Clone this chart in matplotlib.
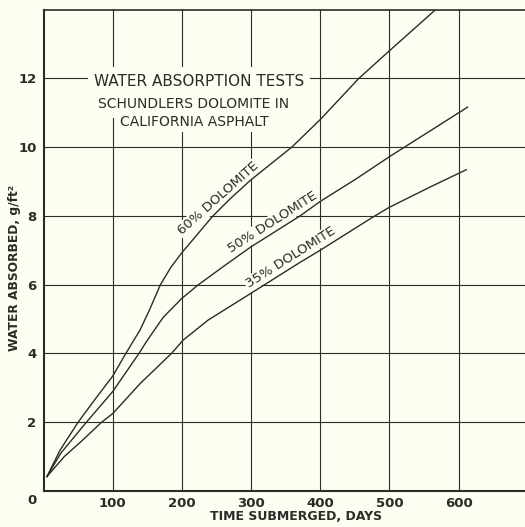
import matplotlib.pyplot as plt

# values (days, g/ft2)
days_60 = [5, 24, 50, 75, 100, 119, 139.5, 154, 169, 184, 200, 224, 245, 270, 300, 359, 400, 456, 500, 567]
water_60 = [0.42, 1.19, 2.0, 2.68, 3.34, 4.0, 4.68, 5.3, 6.0, 6.5, 6.93, 7.5, 8.0, 8.5, 9.05, 10.0, 10.8, 12.0, 12.8, 14.0]

days_50 = [5, 25, 62, 100, 138, 149, 173, 200, 224, 265, 300, 371, 400, 450, 500, 613]
water_50 = [0.42, 1.1, 2.0, 2.89, 4.0, 4.35, 5.05, 5.6, 6.0, 6.6, 7.1, 8.0, 8.42, 9.05, 9.72, 11.16]

days_35 = [5, 30, 55, 84, 100, 140, 185, 202, 238, 300, 371, 400, 475, 500, 560, 611]
water_35 = [0.42, 1.0, 1.45, 2.0, 2.25, 3.13, 4.0, 4.39, 4.97, 5.75, 6.65, 7.0, 7.95, 8.25, 8.85, 9.34]

x_ticks = [100, 200, 300, 400, 500, 600]
y_ticks = [2, 4, 6, 8, 10, 12]

bg = '#fdfdf2'
ink = '#2b2b28'

fig = plt.figure(figsize=(5.25, 5.27), dpi=100, facecolor=bg)
ax = fig.add_axes([43.5 / 525, 36 / 527, 1 - 43.5 / 525, 481.5 / 527])
ax.set_facecolor(bg)

ax.plot(days_60, water_60, color=ink, lw=1.0, zorder=4)
ax.plot(days_50, water_50, color=ink, lw=1.0, zorder=4)
ax.plot(days_35, water_35, color=ink, lw=1.0, zorder=4)

ax.set_xlim(0, 696)
ax.set_ylim(0, 14)
ax.set_xticks(x_ticks)
ax.set_yticks(y_ticks)
ax.grid(True, color=ink, lw=0.8)
ax.tick_params(length=0, colors=ink)
ax.tick_params(axis='x', pad=4)
ax.tick_params(axis='y', pad=5)
for lab in ax.get_xticklabels() + ax.get_yticklabels():
    lab.set_fontsize(9.5)
    lab.set_fontweight('bold')

ax.spines['right'].set_visible(False)
ax.spines['left'].set_linewidth(1.5)
ax.spines['bottom'].set_linewidth(1.5)
ax.spines['top'].set_linewidth(1.2)
for s in ax.spines.values():
    s.set_color(ink)

ax.annotate('0', xy=(0, 0), xytext=(-11, -9), textcoords='offset pixels',
            ha='center', va='center', fontsize=9.5, fontweight='bold', color=ink,
            annotation_clip=False)

# title block
ax.text(224.7, 11.92, 'WATER ABSORPTION TESTS', ha='center', va='center',
        fontsize=11, color=ink,
        bbox=dict(boxstyle='square,pad=0.4', facecolor=bg, edgecolor='none'))
ax.text(216.8, 11.26, 'SCHUNDLERS DOLOMITE IN', ha='center', va='center',
        fontsize=10, color=ink,
        bbox=dict(boxstyle='square,pad=0.5', facecolor=bg, edgecolor='none'))
ax.text(217.5, 10.73, 'CALIFORNIA ASPHALT', ha='center', va='center',
        fontsize=10, color=ink,
        bbox=dict(boxstyle='square,pad=0.25', facecolor=bg, edgecolor='none'))

# curve labels
lab_style = dict(ha='center', va='center', fontsize=9.5, color=ink, rotation_mode='anchor',
                 bbox=dict(boxstyle='square,pad=0.1', facecolor=bg, edgecolor='none'))
ax.text(252.6, 8.5, '60% DOLOMITE', rotation=41.5, **lab_style)
ax.text(330.6, 7.8, '50% DOLOMITE', rotation=32.5, **lab_style)
ax.text(357.5, 6.78, '35% DOLOMITE', rotation=32.3, **lab_style)

fig.text(15 / 525, 1 - 267.5 / 527, 'WATER ABSORBED, g/ft²', rotation=90,
         ha='center', va='center', fontsize=8.8, fontweight='bold', color=ink)
fig.text(296.5 / 525, 1 - 517 / 527, 'TIME SUBMERGED, DAYS',
         ha='center', va='center', fontsize=9, fontweight='bold', color=ink)

fig.savefig('out.png', dpi=100, facecolor=bg)
